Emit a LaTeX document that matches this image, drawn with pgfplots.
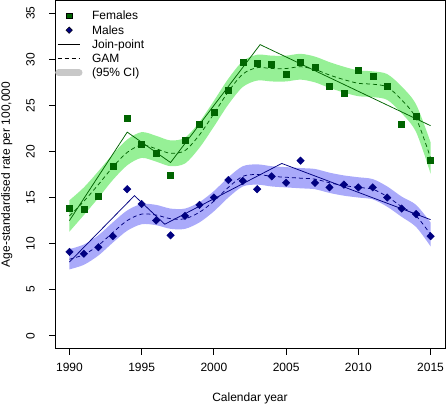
\documentclass[border=0pt]{standalone}
\usepackage{pgfplots}
\pgfplotsset{compat=1.18}
\usepackage{pgfplotstable}
\usepgfplotslibrary{fillbetween}
\usepackage{fontspec}
\setmainfont{Liberation Sans}
\definecolor{fgreen}{RGB}{0,100,0}
\definecolor{mnavy}{RGB}{0,0,128}
\definecolor{fband}{RGB}{150,240,150}
\definecolor{mband}{RGB}{170,170,250}
\definecolor{ciGray}{RGB}{200,200,200}

\pgfplotstableread{
year fobs mobs
1990 13.8 9.1
1991 13.7 8.9
1992 15.1 9.6
1993 18.4 10.8
1994 23.6 15.9
1995 20.8 14.3
1996 19.8 12.5
1997 17.4 10.9
1998 21.2 13.0
1999 23.0 14.2
2000 24.3 15.0
2001 26.6 16.9
2002 29.7 16.8
2003 29.6 15.9
2004 29.5 17.3
2005 28.4 16.6
2006 29.7 19.0
2007 29.1 16.6
2008 27.1 16.1
2009 26.3 16.4
2010 28.8 16.1
2011 28.2 16.1
2012 27.1 15.0
2013 23.0 13.8
2014 23.8 13.2
2015 19.0 10.8
}\obs

\pgfplotstableread{
year fgam flo fhi mgam mlo mhi
1990 13.0 11.3 14.7 8.3 7.2 9.4
1991 14.6 13.1 16.1 8.8 7.7 9.9
1992 16.4 14.95 17.85 9.8 8.7 10.9
1993 18.3 16.9 19.7 11.2 10.1 12.3
1994 19.9 18.5 21.3 12.5 11.4 13.6
1995 20.7 19.3 22.1 13.2 12.1 14.3
1996 20.3 18.9 21.7 13.1 12.0 14.2
1997 19.8 18.4 21.2 12.7 11.6 13.8
1998 20.1 18.7 21.5 12.7 11.6 13.8
1999 21.8 20.4 23.2 13.4 12.3 14.5
2000 24.1 22.7 25.5 14.6 13.5 15.7
2001 26.5 25.1 27.9 16.1 15.0 17.2
2002 28.4 27.0 29.8 17.3 16.2 18.4
2003 29.1 27.7 30.5 17.5 16.4 18.6
2004 29.0 27.6 30.4 17.3 16.2 18.4
2005 29.0 27.6 30.4 17.2 16.1 18.3
2006 29.2 27.8 30.6 17.1 16.0 18.2
2007 28.9 27.5 30.3 17.0 15.9 18.1
2008 28.3 26.9 29.7 16.6 15.5 17.7
2009 27.8 26.4 29.2 16.3 15.2 17.4
2010 27.4 26.0 28.8 16.1 15.0 17.2
2011 27.3 25.9 28.7 15.9 14.8 17.0
2012 27.0 25.6 28.4 15.1 14.0 16.2
2013 25.6 24.15 27.05 14.0 12.9 15.1
2014 23.6 22.1 25.1 13.0 11.8 14.2
2015 19.3 17.6 21.0 11.0 9.7 12.3
}\gam

\pgfplotstableread{
year val
1990 12.5
1994 22.1
1997 18.8
2003.2 31.6
2015 22.8
}\jpf

\pgfplotstableread{
year val
1990 8.0
1994.5 15.2
1996.6 12.1
2004.7 18.7
2015 12.6
}\jpm

\begin{document}
\begin{tikzpicture}[font=\fontsize{12}{14}\selectfont]
\begin{axis}[
  at={(0pt,0pt)}, anchor=south west,
  scale only axis, width=390pt, height=348.2pt,
  xmin=1989, xmax=2016, ymin=-1.4, ymax=36.4,
  xtick={1990,1995,2000,2005,2010,2015},
  ytick={0,5,10,15,20,25,30,35},
  tick align=outside, tick pos=left,
  major tick length=6pt,
  axis line style={line width=0.8pt},
  every tick/.style={black, line width=0.8pt},
  /pgf/number format/1000 sep={},
  /pgf/number format/assume math mode=true,
  ticklabel style={font=\fontsize{12}{14}\selectfont},
  xticklabel style={anchor=base, yshift=-16.5pt},
  yticklabel style={xshift=-14.5pt, rotate=90, anchor=base},
  xlabel={Calendar year},
  ylabel={Age-standardised rate per 100,000},
  xlabel style={at={(axis description cs:0.5,-0.1505)}, anchor=base},
  ylabel style={at={(axis description cs:-0.1154,0.5)}, anchor=base},
  legend style={
    at={(axis description cs:0,0.97243)}, anchor=north west,
    draw=none, fill=none, inner sep=0pt, outer sep=0pt,
    row sep=0pt, column sep=0pt,
    cells={anchor=base west},
    nodes={inner sep=0pt, outer sep=0pt, text height=10pt, text depth=4.2pt, font=\fontsize{12}{14}\selectfont},
    /tikz/every odd column/.append style={column sep=9.4pt},
  },
]
\addlegendimage{legend image code/.code={\path (0pt,0pt) (27.3pt,0pt); \path[fill=fgreen, draw=none] plot[mark=square*, mark size=2.7pt, mark options={fill=fgreen, draw=none}] coordinates {(14pt,4pt)};}}
\addlegendentry{Females}
\addlegendimage{legend image code/.code={\path (0pt,0pt) (27.3pt,0pt); \path[fill=mnavy, draw=none] plot[mark=square*, mark size=2.3pt, mark options={fill=mnavy, draw=none, rotate=45}] coordinates {(14pt,4pt)};}}
\addlegendentry{Males}
\addlegendimage{legend image code/.code={\path (0pt,0pt) (27.3pt,0pt); \draw[black, line width=0.75pt] (2.3pt,4pt) -- (25pt,4pt);}}
\addlegendentry{Join-point}
\addlegendimage{legend image code/.code={\path (0pt,0pt) (27.3pt,0pt); \draw[black, line width=0.75pt, dash pattern=on 4pt off 3pt] (2.3pt,4pt) -- (25pt,4pt);}}
\addlegendentry{GAM}
\addlegendimage{legend image code/.code={\path (0pt,0pt) (27.3pt,0pt); \draw[ciGray, line width=6.7pt, line cap=round] (3.35pt,4pt) -- (23.95pt,4pt);}}
\addlegendentry{(95\% CI)}

% bands
\addplot[name path=fu, draw=none, smooth, forget plot] table[x=year,y=fhi]{\gam};
\addplot[name path=fl, draw=none, smooth, forget plot] table[x=year,y=flo]{\gam};
\addplot[fband, draw=none, forget plot] fill between[of=fu and fl];
\addplot[name path=mu, draw=none, smooth, forget plot] table[x=year,y=mhi]{\gam};
\addplot[name path=ml, draw=none, smooth, forget plot] table[x=year,y=mlo]{\gam};
\addplot[mband, draw=none, forget plot] fill between[of=mu and ml];

% GAM curves
\addplot[fgreen, line width=0.75pt, dash pattern=on 4pt off 3pt, smooth, forget plot] table[x=year,y=fgam]{\gam};
\addplot[mnavy, line width=0.75pt, dash pattern=on 4pt off 3pt, smooth, forget plot] table[x=year,y=mgam]{\gam};

% join-point
\addplot[fgreen, line width=0.75pt, forget plot] table[x=year,y=val]{\jpf};
\addplot[mnavy, line width=0.75pt, forget plot] table[x=year,y=val]{\jpm};

% observations
\addplot[fgreen, only marks, mark=square*, mark size=3pt, mark options={solid, fill=fgreen, draw=none}, forget plot] table[x=year,y=fobs]{\obs};
\addplot[mnavy, only marks, mark=square*, mark size=2.65pt, mark options={solid, fill=mnavy, draw=none, rotate=45}, forget plot] table[x=year,y=mobs]{\obs};
\end{axis}
\pgfresetboundingbox
\path (-55pt,-57.4pt) rectangle (392pt,348.6pt);
\end{tikzpicture}
\end{document}
